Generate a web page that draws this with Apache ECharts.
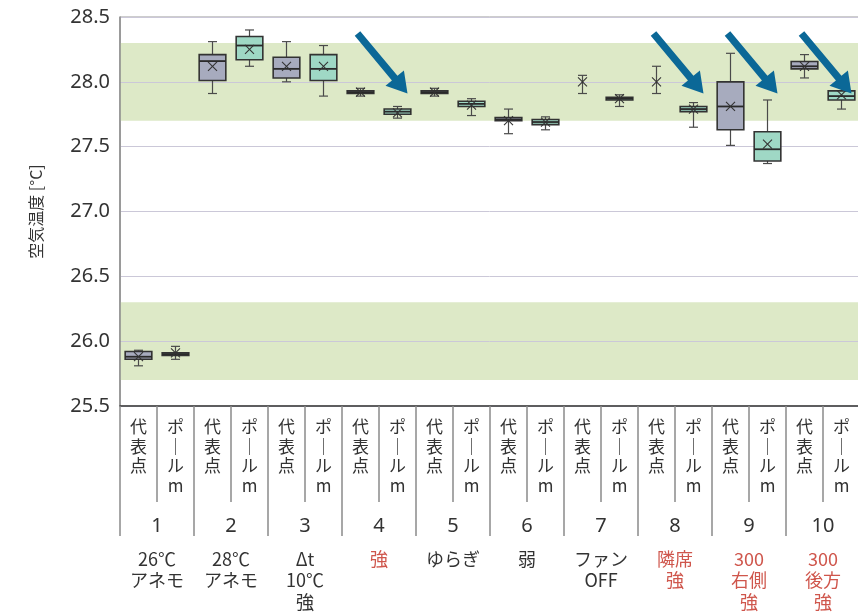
<!DOCTYPE html>
<html><head><meta charset="utf-8">
<script src="https://cdn.jsdelivr.net/npm/echarts@6/dist/echarts.min.js"></script>
<style>html,body{margin:0;padding:0;background:#fff}#c{width:858px;height:616px}</style>
</head><body><div id="c"></div>
<script>
// ---- data ----
const subLabels = ['代表点','ポールm','代表点','ポールm','代表点','ポールm','代表点','ポールm','代表点','ポールm',
                   '代表点','ポールm','代表点','ポールm','代表点','ポールm','代表点','ポールm','代表点','ポールm'];
const groupNumbers = ['1','2','3','4','5','6','7','8','9','10'];
const groupDescriptions = ['26℃\nアネモ','28℃\nアネモ','Δt\n10℃\n強','強','ゆらぎ','弱','ファン\nOFF','隣席\n強','300\n右側\n強','300\n後方\n強'];
const highlightGroups = [false,false,false,true,false,false,false,true,true,true];
const yTicks = [25.5, 26.0, 26.5, 27.0, 27.5, 28.0, 28.5];

const minValues    = [25.81,25.86,27.91,28.12,28.00,27.89,27.89,27.72,27.89,27.74,27.60,27.63,27.91,27.81,27.91,27.65,27.51,27.37,28.03,27.79];
const q1Values     = [25.86,25.89,28.01,28.17,28.03,28.01,27.91,27.75,27.91,27.81,27.70,27.67,28.00,27.86,28.00,27.77,27.63,27.39,28.10,27.86];
const medianValues = [25.88,25.90,28.16,28.28,28.10,28.10,27.92,27.77,27.92,27.83,27.71,27.69,28.00,27.87,28.00,27.79,27.81,27.48,28.12,27.89];
const q3Values     = [25.92,25.91,28.21,28.35,28.19,28.21,27.93,27.79,27.93,27.85,27.725,27.71,28.00,27.88,28.00,27.81,28.00,27.615,28.157,27.93];
const maxValues    = [25.93,25.96,28.31,28.40,28.31,28.28,27.95,27.81,27.95,27.87,27.79,27.73,28.05,27.90,28.12,27.84,28.22,27.86,28.21,27.96];
const meanValues   = [25.88,25.91,28.12,28.25,28.12,28.12,27.92,27.76,27.92,27.82,27.70,27.69,28.00,27.87,28.00,27.79,27.81,27.52,28.12,27.90];

const comfortBands = [[27.7, 28.3], [25.7, 26.3]];
const arrowTargets = [7, 15, 17, 19];
const arrowTipValue = 27.91;

// ---- styles ----
const colorRep = '#a7abbe';
const colorPole = '#9fd8c5';
const bandColor = '#dde9c7';
const arrowColor = '#0b6897';
const redText = '#cf564c';
const textColor = '#333';
const cjk = '"Noto Sans CJK JP", "Noto Sans", sans-serif';
const num = '"Noto Sans", "Noto Sans CJK JP", sans-serif';

const boxData = subLabels.map((c, i) => [i, minValues[i], q1Values[i], medianValues[i], q3Values[i], maxValues[i], meanValues[i]]);

function renderBox(params, api) {
  const i = api.value(0);
  const pMin = api.coord([i, api.value(1)]);
  const pQ1 = api.coord([i, api.value(2)]);
  const pMed = api.coord([i, api.value(3)]);
  const pQ3 = api.coord([i, api.value(4)]);
  const pMax = api.coord([i, api.value(5)]);
  const pMean = api.coord([i, api.value(6)]);
  const cx = pMed[0];
  const bw = api.size([1, 0])[0] * 0.72;
  const cap = 4.5;
  const wStyle = { stroke: '#4a4a4a', lineWidth: 1.2 };
  const children = [
    { type: 'line', shape: { x1: cx, y1: pMax[1], x2: cx, y2: pQ3[1] }, style: wStyle },
    { type: 'line', shape: { x1: cx, y1: pQ1[1], x2: cx, y2: pMin[1] }, style: wStyle },
    { type: 'line', shape: { x1: cx - cap, y1: pMax[1], x2: cx + cap, y2: pMax[1] }, style: wStyle },
    { type: 'line', shape: { x1: cx - cap, y1: pMin[1], x2: cx + cap, y2: pMin[1] }, style: wStyle }
  ];
  if (pQ1[1] - pQ3[1] > 0.5) {
    children.push({ type: 'rect', shape: { x: cx - bw / 2, y: pQ3[1], width: bw, height: pQ1[1] - pQ3[1] },
      style: { fill: i % 2 === 0 ? colorRep : colorPole, stroke: '#333', lineWidth: 1.6 } });
    children.push({ type: 'line', shape: { x1: cx - bw / 2, y1: pMed[1], x2: cx + bw / 2, y2: pMed[1] },
      style: { stroke: '#2a2a2a', lineWidth: 1.8 } });
  }
  const m = 4.5;
  children.push({ type: 'line', shape: { x1: cx - m, y1: pMean[1] - m, x2: cx + m, y2: pMean[1] + m }, style: { stroke: '#333', lineWidth: 1.1 } });
  children.push({ type: 'line', shape: { x1: cx - m, y1: pMean[1] + m, x2: cx + m, y2: pMean[1] - m }, style: { stroke: '#333', lineWidth: 1.1 } });
  return { type: 'group', children };
}

function renderBand(params, api) {
  const cs = params.coordSys;
  const top = api.coord([0, api.value(1)])[1];
  const bot = api.coord([0, api.value(0)])[1];
  return { type: 'rect', shape: { x: cs.x, y: top, width: cs.width, height: bot - top }, style: { fill: bandColor } };
}

function renderArrow(params, api) {
  const tip = api.coord([api.value(0), api.value(1)]);
  const tx = tip[0] + 10, ty = tip[1];
  const dx = 50, dy = 60;
  const L = Math.sqrt(dx * dx + dy * dy);
  const ux = dx / L, uy = dy / L, nx = -uy, ny = ux;
  const headLen = 20, headHalf = 12, shaftHalf = 3.6;
  const sx = tx - dx, sy = ty - dy;
  const bx = tx - ux * headLen, by = ty - uy * headLen;
  return { type: 'polygon', shape: { points: [
    [sx + nx * shaftHalf, sy + ny * shaftHalf],
    [bx + nx * shaftHalf, by + ny * shaftHalf],
    [bx + nx * headHalf, by + ny * headHalf],
    [tx, ty],
    [bx - nx * headHalf, by - ny * headHalf],
    [bx - nx * shaftHalf, by - ny * shaftHalf],
    [sx - nx * shaftHalf, sy - ny * shaftHalf]
  ] }, style: { fill: arrowColor } };
}

const chart = echarts.init(document.getElementById('c'));
chart.setOption({
  animation: false,
  backgroundColor: '#fff',
  grid: { left: 120, top: 17, width: 740, height: 389, containLabel: false, outerBoundsMode: 'none',
          show: true, borderColor: '#9a9a9a', borderWidth: 1, backgroundColor: 'transparent' },
  xAxis: [
    { type: 'category', data: subLabels, position: 'bottom', z: 1,
      axisLine: { show: true, lineStyle: { color: '#3a3a3a', width: 1.5 } },
      axisTick: { show: true, interval: 0, length: 96, lineStyle: { color: '#8a8a8a', width: 1.5 } },
      axisLabel: { interval: 0, margin: 11, color: textColor, fontFamily: cjk, fontSize: 17, lineHeight: 19.5,
        formatter: v => v.replace('ー', '｜').split('').join('\n'), verticalAlign: 'top' },
      splitLine: { show: false } },
    { type: 'category', data: groupNumbers, position: 'bottom', z: 1,
      axisLine: { show: false },
      axisTick: { show: true, interval: 0, length: 130, lineStyle: { color: '#8a8a8a', width: 1.5 } },
      axisLabel: { interval: 0, margin: 109, color: textColor, fontFamily: num, fontSize: 20, lineHeight: 22 },
      splitLine: { show: false } },
    { type: 'category', data: groupDescriptions, position: 'bottom', z: 1,
      axisLine: { show: false }, axisTick: { show: false },
      axisLabel: { interval: 0, margin: 142, fontFamily: cjk,
        formatter: (v, idx) => v.split('\n').map(l => '{' + (highlightGroups[idx] ? 'r' : 'n') + '|' + l + '}').join('\n'),
        rich: { n: { color: textColor, fontSize: 18, lineHeight: 21.5, fontFamily: cjk },
                r: { color: redText, fontSize: 18, lineHeight: 21.5, fontFamily: cjk } } },
      splitLine: { show: false } }
  ],
  yAxis: {
    type: 'value', min: yTicks[0], max: yTicks[yTicks.length - 1], interval: 0.5, z: 1,
    name: '空気温度 [°C]', nameLocation: 'middle', nameRotate: 90, nameGap: 76,
    nameTextStyle: { color: textColor, fontSize: 16, fontFamily: cjk },
    axisLine: { show: true, lineStyle: { color: '#8a8a8a', width: 1.5 } },
    axisTick: { show: false },
    axisLabel: { color: textColor, fontSize: 20, fontFamily: num, margin: 10, formatter: v => v.toFixed(1) },
    splitLine: { show: true, lineStyle: { color: '#cbc8d8', width: 1 } }
  },
  series: [
    { type: 'custom', name: 'bands', z: 0, silent: true, renderItem: renderBand, data: comfortBands,
      encode: { y: [0, 1] } },
    { type: 'custom', name: 'boxes', z: 2, renderItem: renderBox, data: boxData,
      encode: { x: 0, y: [1, 2, 3, 4, 5] } },
    { type: 'custom', name: 'arrows', z: 3, silent: true, renderItem: renderArrow,
      data: arrowTargets.map(i => [i, arrowTipValue]), encode: { x: 0, y: 1 } }
  ]
});
</script>
</body></html>
